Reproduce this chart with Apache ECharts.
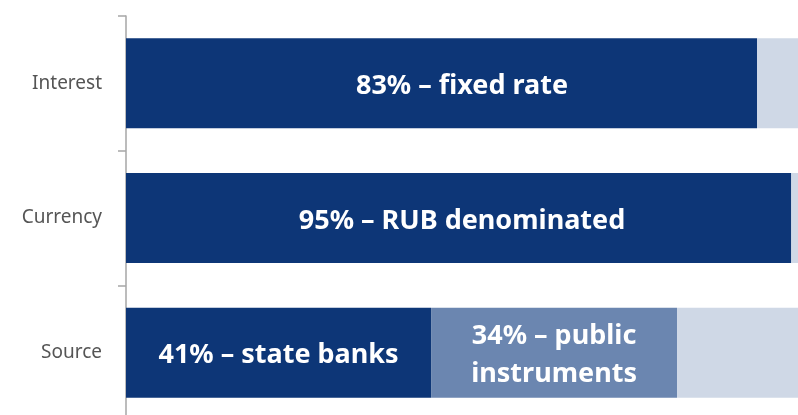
<!DOCTYPE html>
<html>
<head>
<meta charset="utf-8">
<script src="https://cdn.jsdelivr.net/npm/echarts@6/dist/echarts.min.js"></script>
<style>
html,body{margin:0;padding:0;background:#fff;}
#chart{width:798px;height:415px;}
</style>
</head>
<body>
<div id="chart"></div>
<script>
// categories top to bottom
var categories = ['Interest', 'Currency', 'Source'];
// segment widths, share of the visible bar length
var mainValues = [93.9, 99.0, 45.4];
var secondValues = [0, 0, 36.6];
var restValues = [6.1, 1.0, 18.0];
// text written on the bars
var wholeBarLabels = ['83% – fixed rate', '95% – RUB denominated', ''];
var mainLabels = ['', '', '41% – state banks'];
var secondLabels = ['', '', '34% – public\ninstruments'];

var chart = echarts.init(document.getElementById('chart'));
var labelFont = {
	color: '#fff',
	fontFamily: 'Noto Sans',
	fontWeight: 'bold',
	fontSize: 27,
	lineHeight: 38
};
function withLabels(values, labels){
	return values.map(function(v, i){
		return {value: v, label: {show: labels[i] !== '', formatter: labels[i]}};
	});
}
var option = {
	animation: false,
	grid: {left: 126, right: 0, top: 16, height: 404, outerBoundsMode: 'none'},
	xAxis: {
		type: 'value',
		min: 0,
		max: 100,
		show: false
	},
	yAxis: {
		type: 'category',
		inverse: true,
		data: categories,
		axisLine: {show: true, lineStyle: {color: '#a6a6a6', width: 1.5}},
		axisTick: {show: true, length: 8, lineStyle: {color: '#a6a6a6', width: 1.5}},
		axisLabel: {color: '#555', fontSize: 19, fontFamily: 'Noto Sans', margin: 24}
	},
	series: [
		{
			type: 'bar', stack: 'a', barWidth: 90,
			itemStyle: {color: '#0d3677'},
			label: Object.assign({position: 'inside', offset: [0, 3]}, labelFont),
			data: withLabels(mainValues, mainLabels)
		},
		{
			type: 'bar', stack: 'a', barWidth: 90,
			itemStyle: {color: '#6b86b0'},
			label: Object.assign({position: 'inside', offset: [0, 3]}, labelFont),
			data: withLabels(secondValues, secondLabels)
		},
		{
			type: 'bar', stack: 'a', barWidth: 90,
			itemStyle: {color: '#cfd8e6'},
			data: restValues
		},
		{
			// invisible full-length bar that carries the centred labels
			type: 'bar', barWidth: 90, barGap: '-100%', z: 5,
			itemStyle: {color: 'rgba(0,0,0,0)'},
			label: Object.assign({position: 'inside', offset: [0, 3]}, labelFont),
			data: withLabels(mainValues.map(function(){ return 100; }), wholeBarLabels)
		}
	]
};
chart.setOption(option, true);
</script>
</body>
</html>
